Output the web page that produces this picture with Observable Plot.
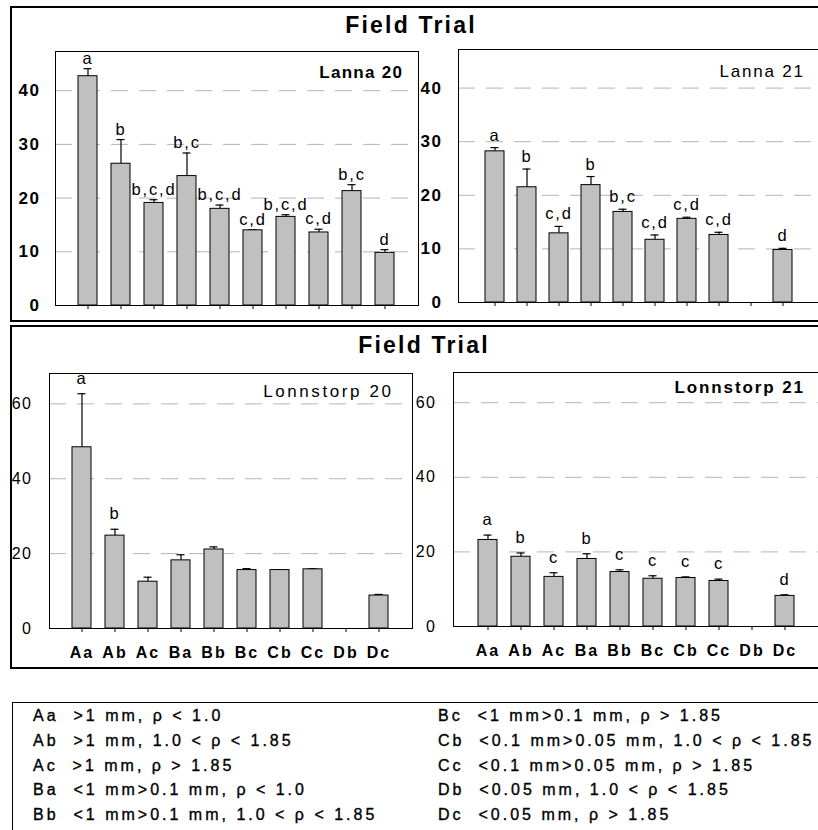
<!DOCTYPE html>
<html>
<head>
<meta charset="utf-8">
<script src="https://cdn.jsdelivr.net/npm/d3@7"></script>
<script src="https://cdn.jsdelivr.net/npm/@observablehq/plot@0.6"></script>
<style>
  html, body { margin: 0; padding: 0; background: #fff; }
  #root { position: relative; width: 818px; height: 830px; overflow: hidden; background: #fff;
          font-family: "Liberation Sans", Arial, sans-serif; color: #000; }
  .box { position: absolute; border: 2px solid #000; box-sizing: border-box; }
  .title { position: absolute; font-weight: bold; font-size: 23px; line-height: 23px;
           letter-spacing: 2.2px; white-space: nowrap; transform: translateX(-50%); }
  .ptitle { position: absolute; font-size: 17px; line-height: 17px; white-space: nowrap; }
  .panel { position: absolute; }
  .panel svg { overflow: visible; }
  .top [aria-label^="y-axis"] text { font-weight: bold; font-size: 17px; letter-spacing: 1.5px; }
  .bot [aria-label^="y-axis"] text { font-size: 16px; letter-spacing: 1.5px; }
  .bot [aria-label^="x-axis"] text { font-weight: bold; font-size: 16px; letter-spacing: 2px; }
  .panel g[aria-label="text"] text { letter-spacing: 1.8px; }
  .legend { position: absolute; font-size: 16px; line-height: 24.75px; letter-spacing: 3px;
            white-space: pre; -webkit-text-stroke: 0.35px #000; }
</style>
</head>
<body>
<div id="root"></div>
<script>
// ---------- data ----------
const categories = ["Aa","Ab","Ac","Ba","Bb","Bc","Cb","Cc","Db","Dc"];

const lanna20        = [42.7, 26.4, 19.1, 24.1, 18.0, 14.0, 16.5, 13.6, 21.3, 9.8];
const lanna20Err     = [44.1, 30.9, 19.7, 28.4, 18.7, 14.1, 16.9, 14.2, 22.5, 10.4];
const lanna20Letters = ["a","b","b,c,d","b,c","b,c,d","c,d","b,c,d","c,d","b,c","d"];

const lanna21        = [28.2, 21.5, 12.9, 21.9, 16.9, 11.7, 15.6, 12.6, null, 9.8];
const lanna21Err     = [28.9, 24.9, 14.2, 23.5, 17.4, 12.6, 15.9, 13.1, null, 10.1];
const lanna21Letters = ["a","b","c,d","b","b,c","c,d","c,d","c,d","","d"];

const lonn20         = [48.4, 24.8, 12.5, 18.2, 21.1, 15.6, 15.6, 15.8, null, 8.8];
const lonn20Err      = [62.7, 26.5, 13.7, 19.7, 21.8, 16.0, 15.7, 16.0, null, 9.1];
const lonn20Letters  = ["a","b","","","","","","","",""];

const lonn21         = [23.2, 18.7, 13.3, 18.1, 14.6, 12.8, 13.0, 12.2, null, 8.2];
const lonn21Err      = [24.5, 19.7, 14.4, 19.5, 15.2, 13.6, 13.3, 12.7, null, 8.5];
const lonn21Letters  = ["a","b","c","b","c","c","c","c","","d"];

const topTicks = [0, 10, 20, 30, 40];
const topGrid  = [10, 20, 30, 40];
const botTicks = [0, 20, 40, 60];
const botGrid  = [20, 40, 60];

const mainTitle = "Field Trial";
const panelTitles = ["Lanna 20", "Lanna 21", "Lonnstorp 20", "Lonnstorp 21"];

const legendLeft = [
  "Aa  >1 mm, \u03C1 < 1.0",
  "Ab  >1 mm, 1.0 < \u03C1 < 1.85",
  "Ac  >1 mm, \u03C1 > 1.85",
  "Ba  <1 mm>0.1 mm, \u03C1 < 1.0",
  "Bb  <1 mm>0.1 mm, 1.0 < \u03C1 < 1.85"
];
const legendRight = [
  "Bc  <1 mm>0.1 mm, \u03C1 > 1.85",
  "Cb  <0.1 mm>0.05 mm, 1.0 < \u03C1 < 1.85",
  "Cc  <0.1 mm>0.05 mm, \u03C1 > 1.85",
  "Db  <0.05 mm, 1.0 < \u03C1 < 1.85",
  "Dc  <0.05 mm, \u03C1 > 1.85"
];

// ---------- helpers ----------
const root = document.getElementById("root");
function el(cls, css, text) {
  const d = document.createElement("div");
  d.className = cls;
  Object.assign(d.style, css);
  if (text != null) d.textContent = text;
  root.appendChild(d);
  return d;
}
function rows(vals, errs, letters) {
  return categories.map((c, i) => ({cat: c, v: vals[i], e: errs[i], l: letters[i]}))
                   .filter(d => d.v != null);
}

function panel(cfg) {
  const data = rows(cfg.vals, cfg.errs, cfg.letters);
  return Plot.plot({
    width: cfg.width, height: cfg.height,
    marginLeft: cfg.ml, marginRight: cfg.mr, marginTop: cfg.mt, marginBottom: cfg.mb,
    style: {background: "none", fontFamily: "Liberation Sans, Arial, sans-serif", fontSize: "16px", overflow: "visible"},
    x: {domain: categories, paddingInner: 0.42, paddingOuter: 0.7, tickSize: 4,
        tickPadding: 14, label: null,
        tickFormat: cfg.xlabels ? (d => d) : (() => "")},
    y: {domain: cfg.ydomain, ticks: cfg.ticks, tickSize: 0, tickPadding: cfg.tp, label: null},
    marks: [
      Plot.ruleY(cfg.grid, {stroke: "#b4b4b4", strokeWidth: 1, strokeDasharray: "17,11"}),
      Plot.ruleX(data, {x: "cat", y1: "v", y2: "e", stroke: "#000", strokeWidth: 1.2}),
      Plot.tickY(data, {x: "cat", y: "e", stroke: "#000", strokeWidth: 1.2, insetLeft: 5.5, insetRight: 5.5}),
      Plot.barY(data, {x: "cat", y: "v", fill: "#c0c0c0", stroke: "#000", strokeWidth: 1}),
      Plot.text(data, {x: "cat", y: "e", text: "l", lineAnchor: "bottom", dy: cfg.dy,
                       fontSize: 16.5, fill: "#000"}),
      Plot.frame({stroke: "#000", strokeWidth: 1})
    ]
  });
}

// ---------- outer boxes ----------
el("box", {left: "10px", top: "6px", width: "830px", height: "316px"});
el("box", {left: "10px", top: "325px", width: "830px", height: "344px"});
el("box", {left: "12px", top: "702px", width: "830px", height: "160px", borderWidth: "1.5px"});

el("title", {left: "411px", top: "14px"}, mainTitle);
el("title", {left: "424px", top: "334px"}, mainTitle);

// ---------- panels ----------
const specs = [
  {cls: "panel top", left: 0, top: 40, width: 420, height: 282, ml: 55, mr: 2, mt: 11, mb: 17,
   vals: lanna20, errs: lanna20Err, letters: lanna20Letters, ydomain: [0, 47.3], ticks: topTicks,
   grid: topGrid, tp: 15, dy: -5, xlabels: false},
  {cls: "panel top", left: 410, top: 40, width: 411, height: 282, ml: 48, mr: 2, mt: 9, mb: 20,
   vals: lanna21, errs: lanna21Err, letters: lanna21Letters, ydomain: [0, 47.2], ticks: topTicks,
   grid: topGrid, tp: 16, dy: -7, xlabels: false},
  {cls: "panel bot", left: 0, top: 360, width: 420, height: 310, ml: 49, mr: 8, mt: 13, mb: 42,
   vals: lonn20, errs: lonn20Err, letters: lonn20Letters, ydomain: [0, 68.1], ticks: botTicks,
   grid: botGrid, tp: 17, dy: -10, xlabels: true},
  {cls: "panel bot", left: 410, top: 360, width: 411, height: 310, ml: 43, mr: 2, mt: 12, mb: 44,
   vals: lonn21, errs: lonn21Err, letters: lonn21Letters, ydomain: [0, 68.1], ticks: botTicks,
   grid: botGrid, tp: 17, dy: -10, xlabels: true}
];
for (const s of specs) {
  const d = el(s.cls, {left: s.left + "px", top: s.top + "px", width: s.width + "px", height: s.height + "px"});
  d.appendChild(panel(s));
}

// ---------- panel titles (baseline = top + 0.8465*fs) ----------
const pt = [
  {right: 818 - 402, base: 78, bold: true,  ls: 1.3},
  {right: 818 - 803, base: 77, bold: false, ls: 1.8},
  {right: 818 - 391, base: 397, bold: false, ls: 2.6},
  {right: 818 - 803, base: 393, bold: true,  ls: 1.9}
];
pt.forEach((p, i) => {
  el("ptitle", {right: (p.right - p.ls) + "px", top: (p.base - 0.8465 * 17) + "px",
                fontWeight: p.bold ? "bold" : "normal", letterSpacing: p.ls + "px"}, panelTitles[i]);
});

// ---------- legend ----------
el("legend", {left: "33px", top: "704px"}, legendLeft.join("\n"));
el("legend", {left: "438px", top: "704px"}, legendRight.join("\n"));
</script>
</body>
</html>
